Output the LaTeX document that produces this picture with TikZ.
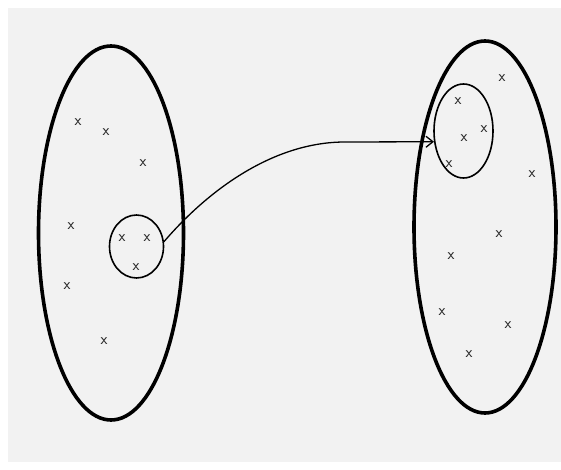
\documentclass[tikz,border=0pt]{standalone}
\usepackage{tikz}
\usetikzlibrary{arrows.meta,shapes.geometric}
\definecolor{paper}{HTML}{F2F2F2}

\begin{document}
\begin{tikzpicture}[
  x=1bp,
  y=-1bp,
  set/.style={
    draw,
    ellipse,
    line width=3.6bp,
    inner sep=0pt
  },
  subset/.style={
    draw,
    ellipse,
    line width=1.6bp,
    inner sep=0pt
  },
  elem/.style={font=\fontsize{16}{16}\sffamily, inner sep=0pt, text=black!85},
  map/.style={-{Straight Barb[length=7bp,width=11bp]}, line width=1.3bp}
]

\useasboundingbox (0,0) rectangle (561,470);
\fill[paper] (8,8) rectangle (561,462);

% domain and codomain
\node[set, minimum width=145bp, minimum height=374bp] (dom) at (111,233) {};
\node[set, minimum width=142bp, minimum height=372bp] (cod) at (485,227) {};

% the two small sets
\node[subset, minimum width=54bp, minimum height=63bp] (pre) at (136.5,246.5) {};
\node[subset, minimum width=59bp, minimum height=94bp] (img) at (463.5,131) {};

% points of the domain
\foreach \px/\py in {78/122, 106/132, 143/163, 71/226, 67/286, 104/341, 122/238, 147/238, 136/267}
  \node[elem] at (\px,\py) {x};

% points of the codomain
\foreach \px/\py in {502/78, 458/101, 484/129, 464/138, 449/164, 532/174, 499/234, 451/256, 442/312, 508/325, 469/354}
  \node[elem] at (\px,\py) {x};

\draw[map] (pre.10) .. controls (210,188) and (275,142) .. (345,142) -- (img.200);

\end{tikzpicture}
\end{document}
